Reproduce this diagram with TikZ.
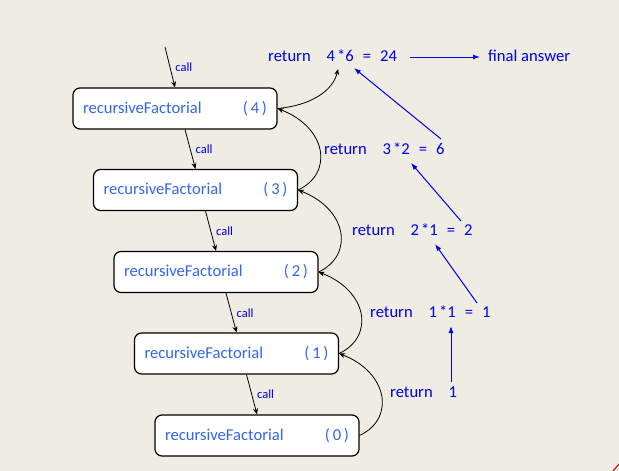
\documentclass[tikz,border=0pt]{standalone}
\usepackage{fontspec}
\setmainfont{Carlito}
\usetikzlibrary{arrows.meta}
\definecolor{bg}{RGB}{238,236,227}
\definecolor{boxtext}{RGB}{51,102,238}
\definecolor{rettext}{RGB}{0,0,230}
\begin{document}
\begin{tikzpicture}[x=1pt,y=-1pt,
  box/.style={draw, line width=1.2pt, fill=white, rounded corners=7pt, minimum width=204pt, minimum height=41pt, inner xsep=10pt, inner ysep=0pt, text=boxtext, font=\fontsize{16.6}{20}\selectfont},
  calllbl/.style={text=rettext, font=\fontsize{12.5}{14}\selectfont, inner sep=0pt, anchor=west, midway, xshift=5pt},
  ret/.style={text=rettext, font=\fontsize{16.6}{20}\selectfont, inner sep=0pt, anchor=base west},
  conn/.style={draw=black, line width=0.8pt, -{Stealth[length=6pt,width=5pt]}},
  blu/.style={draw=rettext, line width=1pt, -{Latex[length=7pt,width=5pt]}}]
\useasboundingbox (0,0) rectangle (619,471);
\fill[bg] (0,0) rectangle (619,471);
\draw[red!75!black, line width=1pt] (613,471) -- (619,464);

% boxes
\node[box] (b4) at (175,108.5) {\makebox[184pt]{recursiveFactorial\hfill(\,4\,)}};
\node[box] (b3) at (195.5,190) {\makebox[184pt]{recursiveFactorial\hfill(\,3\,)}};
\node[box] (b2) at (216,272) {\makebox[184pt]{recursiveFactorial\hfill(\,2\,)}};
\node[box] (b1) at (236.5,353.5) {\makebox[184pt]{recursiveFactorial\hfill(\,1\,)}};
\node[box] (b0) at (257,435.5) {\makebox[184pt]{recursiveFactorial\hfill(\,0\,)}};

% return texts
\node[ret] (r4) at (268,61) {return\hspace{16pt}4\hspace{2pt}*6\hspace{9pt}=\hspace{9pt}24};
\node[ret] (fa) at (488,61) {final answer};
\node[ret] (r3) at (324,154) {return\hspace{16pt}3\hspace{2pt}*2\hspace{9pt}=\hspace{9pt}6};
\node[ret] (r2) at (352,235) {return\hspace{16pt}2\hspace{2pt}*1\hspace{9pt}=\hspace{9pt}2};
\node[ret] (r1) at (370,317) {return\hspace{16pt}1\hspace{2pt}*1\hspace{9pt}=\hspace{9pt}1};
\node[ret] (r0) at (390,397) {return\hspace{16pt}1};

% coordinates
\coordinate (top) at (165,47);
\coordinate (c4) at (338,69);
\coordinate (fs) at (410,57);
\coordinate (fe) at (480,57);
\coordinate (a0s) at (451,382);
\coordinate (a0e) at (451,326);
\coordinate (a1s) at (477,303);
\coordinate (a1e) at (435,244);
\coordinate (a2s) at (461,221);
\coordinate (a2e) at (411,163);
\coordinate (a3s) at (441,139);
\coordinate (a3e) at (354,68);

% calls
\draw[conn] (top) -- (b4.north) node[calllbl]{call};
\draw[conn] ([xshift=10pt]b4.south) -- (b3.north) node[calllbl]{call};
\draw[conn] ([xshift=10pt]b3.south) -- (b2.north) node[calllbl]{call};
\draw[conn] ([xshift=10pt]b2.south) -- (b1.north) node[calllbl]{call};
\draw[conn] ([xshift=10pt]b1.south) -- (b0.north) node[calllbl]{call};

% returns
\draw[conn] (b0.east) .. controls +(36,-17) and +(49,19) .. (b1.east);
\draw[conn] (b1.east) .. controls +(36,-17) and +(49,19) .. (b2.east);
\draw[conn] (b2.east) .. controls +(36,-17) and +(49,19) .. (b3.east);
\draw[conn] (b3.east) .. controls +(36,-17) and +(49,19) .. (b4.east);
\draw[conn] (b4.east) .. controls +(33,-3) and +(-5,22) .. (c4);

% blue arrows
\draw[blu] (fs) -- (fe);
\draw[blu] (a0s) -- (a0e);
\draw[blu] (a1s) -- (a1e);
\draw[blu] (a2s) -- (a2e);
\draw[blu] (a3s) -- (a3e);
\end{tikzpicture}
\end{document}
